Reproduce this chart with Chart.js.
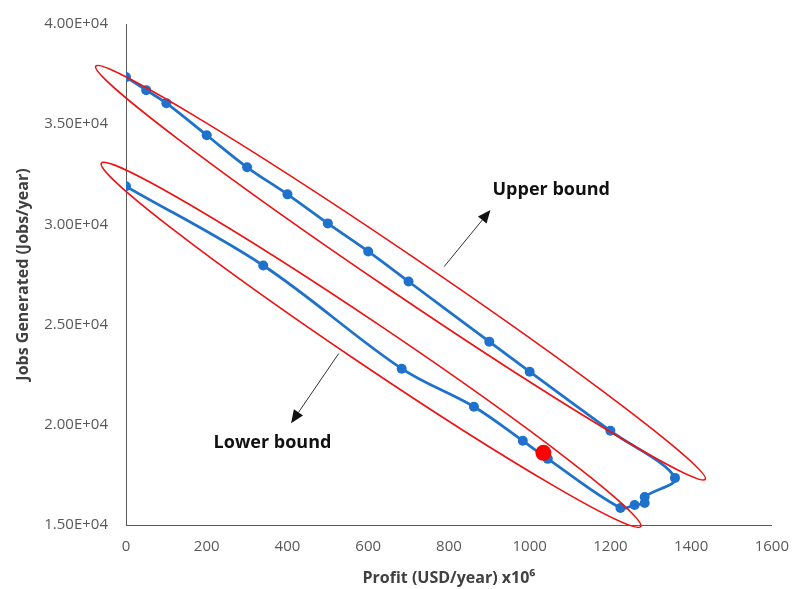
<!DOCTYPE html>
<html>
<head>
<meta charset="utf-8">
<script src="https://cdn.jsdelivr.net/npm/chart.js@4"></script>
<style>
  html, body { margin: 0; padding: 0; background: #fff; }
  #wrap { width: 802px; height: 589px; position: relative; }
</style>
</head>
<body>
<div id="wrap"><canvas id="paretoChart"></canvas></div>
<script>
// Pareto front: upper bound going down, then lower bound coming back up
const profit = [0, 50, 100, 200, 300, 400, 500, 600, 700, 900, 1000, 1200, 1360,
                1285, 1285, 1260, 1225, 1045, 983, 862, 683, 340, 0];
const jobs = [37350, 36700, 36050, 34450, 32850, 31500, 30050, 28650, 27150, 24150, 22650, 19700, 17350,
              16400, 16100, 16000, 15850, 18300, 19200, 20900, 22800, 27950, 31900];

// highlighted solution
const selectedProfit = [1034];
const selectedJobs = [18600];

const xTicks = [0, 200, 400, 600, 800, 1000, 1200, 1400, 1600];
const yTicks = [15000, 20000, 25000, 30000, 35000, 40000];

// ellipse tips in data units
const upperEllipse = { from: [-75, 37900], to: [1435, 17280] };
const lowerEllipse = { from: [-61, 33060], to: [1275, 14920] };

// arrows (start -> head) and their labels, data units
const upperArrow = { from: [788, 27890], to: [903, 30720] };
const lowerArrow = { from: [527, 23560], to: [409, 20080] };
const upperLabel = { text: 'Upper bound', at: [908, 31720] };
const lowerLabel = { text: 'Lower bound', at: [217, 19080] };

const FONT = "'Open Sans', 'Noto Sans', sans-serif";

// 4.00E+04 style labels
function sciLabel(v) {
  const [m, e] = Number(v).toExponential(2).split('e');
  const sign = e[0] === '-' ? '-' : '+';
  return m + 'E' + sign + e.replace(/[+-]/, '').padStart(2, '0');
}

const annotationPlugin = {
  id: 'annotations',
  afterDatasetsDraw(chart) {
    const { ctx, scales: { x, y } } = chart;
    const px = p => [x.getPixelForValue(p[0]), y.getPixelForValue(p[1])];
    ctx.save();

    [[upperEllipse, 20], [lowerEllipse, 21]].forEach(([e, half]) => {
      const [x1, y1] = px(e.from);
      const [x2, y2] = px(e.to);
      const cx = (x1 + x2) / 2, cy = (y1 + y2) / 2;
      const a = Math.hypot(x2 - x1, y2 - y1) / 2;
      ctx.beginPath();
      ctx.ellipse(cx, cy, a, half, Math.atan2(y2 - y1, x2 - x1), 0, Math.PI * 2);
      ctx.strokeStyle = '#ee1111';
      ctx.lineWidth = 1.6;
      ctx.stroke();
    });

    [upperArrow, lowerArrow].forEach(ar => {
      const [x1, y1] = px(ar.from);
      const [x2, y2] = px(ar.to);
      const ang = Math.atan2(y2 - y1, x2 - x1);
      const len = 13, wid = 5.5;
      const bx = x2 - len * Math.cos(ang), by = y2 - len * Math.sin(ang);
      ctx.beginPath();
      ctx.moveTo(x1, y1);
      ctx.lineTo(bx, by);
      ctx.strokeStyle = '#333';
      ctx.lineWidth = 1;
      ctx.stroke();
      ctx.beginPath();
      ctx.moveTo(x2, y2);
      ctx.lineTo(bx + wid * Math.sin(ang), by - wid * Math.cos(ang));
      ctx.lineTo(bx - wid * Math.sin(ang), by + wid * Math.cos(ang));
      ctx.closePath();
      ctx.fillStyle = '#111';
      ctx.fill();
    });

    ctx.font = 'bold 18px ' + FONT;
    ctx.fillStyle = '#111';
    ctx.textAlign = 'left';
    ctx.textBaseline = 'middle';
    [upperLabel, lowerLabel].forEach(l => {
      const [lx, ly] = px(l.at);
      ctx.fillText(l.text, lx, ly);
    });
    ctx.restore();
  }
};

const ctx = document.getElementById('paretoChart').getContext('2d');
new Chart(ctx, {
  type: 'scatter',
  data: {
    datasets: [
      {
        label: 'Selected',
        data: selectedProfit.map((p, i) => ({ x: p, y: selectedJobs[i] })),
        pointRadius: 8,
        pointBackgroundColor: '#ff0000',
        pointBorderWidth: 0,
        showLine: false
      },
      {
        label: 'Pareto front',
        data: profit.map((p, i) => ({ x: p, y: jobs[i] })),
        showLine: true,
        borderColor: '#1f72cc',
        borderWidth: 2.75,
        tension: 0.35,
        pointRadius: 5,
        pointBackgroundColor: '#1f72cc',
        pointBorderWidth: 0
      }
    ]
  },
  plugins: [annotationPlugin],
  options: {
    responsive: true,
    maintainAspectRatio: false,
    animation: false,
    layout: { padding: { top: 24, right: 26, left: 0, bottom: 0 } },
    plugins: {
      legend: { display: false },
      tooltip: { enabled: false }
    },
    scales: {
      x: {
        type: 'linear',
        min: 0,
        max: 1600,
        afterBuildTicks: s => { s.ticks = xTicks.map(v => ({ value: v })); },
        afterFit: s => { s.height = 64; },
        grid: { display: false, drawTicks: false },
        border: { color: '#595959', width: 1 },
        ticks: {
          color: '#595959',
          font: { family: FONT, size: 15 },
          padding: 13,
          maxRotation: 0,
          callback: v => String(v)
        },
        title: {
          display: true,
          text: 'Profit (USD/year) x10\u2076',
          color: '#404040',
          font: { family: FONT, size: 16, weight: 'bold' },
          padding: { top: 0, bottom: 1 }
        }
      },
      y: {
        type: 'linear',
        min: 15000,
        max: 40000,
        afterBuildTicks: s => { s.ticks = yTicks.map(v => ({ value: v })); },
        afterFit: s => { s.width = 126; s.paddingTop = 0; s.paddingBottom = 0; },
        grid: { display: false, drawTicks: false },
        border: { color: '#595959', width: 1 },
        ticks: {
          color: '#595959',
          font: { family: FONT, size: 15 },
          padding: 18,
          callback: v => sciLabel(v)
        },
        title: {
          display: true,
          text: 'Jobs Generated (Jobs/year)',
          color: '#404040',
          font: { family: FONT, size: 16, weight: 'bold' },
          padding: { top: 14, bottom: 0 }
        }
      }
    }
  }
});
</script>
</body>
</html>
